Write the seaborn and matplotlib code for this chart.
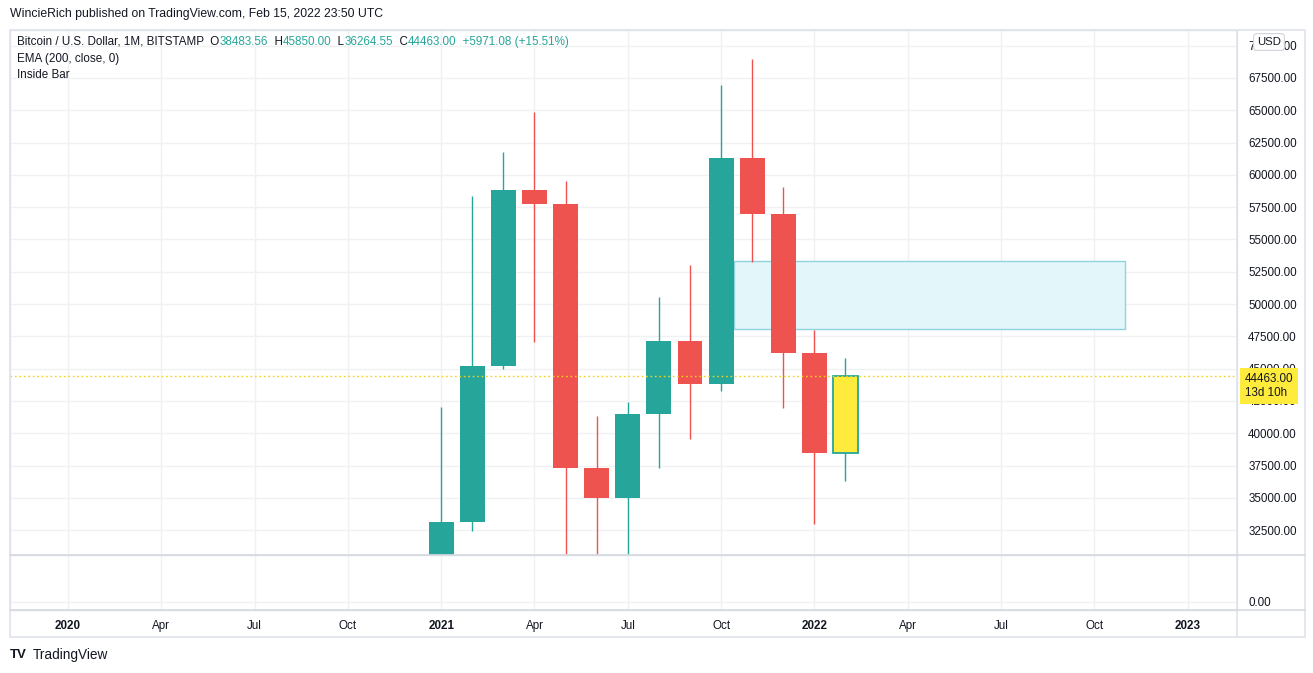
import matplotlib
matplotlib.use("Agg")
import matplotlib.pyplot as plt
import matplotlib.transforms as mtransforms
from matplotlib.lines import Line2D
from matplotlib.patches import Rectangle
import pandas as pd
import seaborn as sns

# ------------------- data (BTC/USD monthly)

months = ["2021-01", "2021-02", "2021-03", "2021-04", "2021-05", "2021-06", "2021-07",
          "2021-08", "2021-09", "2021-10", "2021-11", "2021-12", "2022-01", "2022-02"]
opens = [28990, 33120, 45180, 58820, 57740, 37300, 34990, 41480, 47140, 43810,
         61300, 56950, 46200, 38483.56]
highs = [42030, 58350, 61800, 64870, 59520, 41330, 42420, 50540, 53020, 66960,
         68980, 59060, 47990, 45850.00]
lows = [28130, 32400, 44950, 47060, 30000, 28800, 29300, 37310, 39550, 43300,
        53250, 41950, 32970, 36264.55]
closes = [33120, 45180, 58820, 57740, 37300, 34990, 41480, 47140, 43810, 61300,
          56950, 46200, 38491.92, 44463.00]

zone_start = "2021-10"
zone_end = "2022-11"
zone_low = 48070
zone_high = 53330

price_ticks = list(range(32500, 70001, 2500))
date_ticks = ["2020-01", "2020-04", "2020-07", "2020-10", "2021-01", "2021-04", "2021-07",
              "2021-10", "2022-01", "2022-04", "2022-07", "2022-10", "2023-01"]

title = "WincieRich published on TradingView.com, Feb 15, 2022 23:50 UTC"
symbol = "Bitcoin / U.S. Dollar, 1M, BITSTAMP"
countdown = "13d 10h"

UP, DOWN, LAST = "#26a69a", "#ef5350", "#ffeb3b"
INK, GRID, FRAME = "#131722", "#f0f1f3", "#e0e3eb"
FS = 8.4

# ------------------- helpers


def month_index(labels):
    per = pd.PeriodIndex(labels, freq="M")
    return (per.year - 2020) * 12 + per.month - 1


sns.set_theme(style="white")
plt.rcParams["font.family"] = ["Liberation Sans", "DejaVu Sans"]

W, H = 1313, 673


def fig_rect(l, t, r, b):
    return [l / W, 1 - b / H, (r - l) / W, (b - t) / H]


df = pd.DataFrame({"month": months, "open": opens, "high": highs, "low": lows, "close": closes})
df["x"] = month_index(df["month"])
df["up"] = df["close"] >= df["open"]
df["bottom"] = df[["open", "close"]].min(axis=1)
df["height"] = (df["close"] - df["open"]).abs()
df["color"] = df["up"].map({True: UP, False: DOWN})
df["face"] = df["color"]
df.loc[df.index[-1], "face"] = LAST

fig = plt.figure(figsize=(W / 100, H / 100), dpi=100)
fig.patch.set_facecolor("white")
ax = fig.add_axes(fig_rect(10, 30, 1237, 555))
ax_low = fig.add_axes(fig_rect(10, 555, 1237, 610), sharex=ax)

# candles
ax.vlines(df["x"], df["low"], df["high"], colors=df["color"], linewidth=1.0, zorder=2)
lw = [0] * (len(df) - 1) + [1.3]
ax.bar(df["x"], df["height"], bottom=df["bottom"], width=0.8, color=df["face"],
       edgecolor=df["color"], linewidth=lw, zorder=3)

# inside-bar zone
zx0 = month_index([zone_start])[0] + 0.4
zx1 = month_index([zone_end])[0]
ax.add_patch(Rectangle((zx0, zone_low), zx1 - zx0, zone_high - zone_low,
                       facecolor="#e3f6fa", edgecolor="#8fd3e0", linewidth=1.0, zorder=1))

# last price line
last = df["close"].iloc[-1]
ax.axhline(last, color="#f2d21b", linestyle=(0, (1.2, 2)), linewidth=1.0, zorder=4)

# axes / grid
xt = month_index(date_ticks)
for a in (ax, ax_low):
    a.set_xlim(-1.865, 37.59)
    a.set_xticks(xt)
    a.grid(True, color=GRID, linewidth=1.0)
    a.set_axisbelow(True)
    a.yaxis.tick_right()
    a.tick_params(axis="both", length=0, labelsize=FS, colors=INK)
    for s in a.spines.values():
        s.set_color(FRAME)
        s.set_linewidth(1.0)

ax.set_ylim(30571, 71216)
ax.set_yticks(price_ticks)
ax.set_yticklabels([f"{v:.2f}" for v in price_ticks])
ax.tick_params(axis="y", pad=8)
ax.tick_params(axis="x", labelbottom=False)

ax_low.set_ylim(-8, 47)
ax_low.set_yticks([0])
ax_low.set_yticklabels(["0.00"])
ax_low.tick_params(axis="y", pad=8)
ax_low.tick_params(axis="x", pad=7)
lbls = [d[:4] if d.endswith("-01") else pd.Period(d, "M").strftime("%b") for d in date_ticks]
ax_low.set_xticklabels(lbls)
for t, d in zip(ax_low.get_xticklabels(), date_ticks):
    if d.endswith("-01"):
        t.set_fontweight("bold")

# legend lines
chg = df["close"].iloc[-1] - df["close"].iloc[-2]
pct = chg / df["close"].iloc[-2] * 100
o, h, l, c = df[["open", "high", "low", "close"]].iloc[-1]
pieces = [(symbol + "  O", INK), (f"{o:.2f}", UP), ("  H", INK), (f"{h:.2f}", UP),
          ("  L", INK), (f"{l:.2f}", UP), ("  C", INK), (f"{c:.2f}", UP),
          (f"  {chg:+.2f} ({pct:+.2f}%)", UP)]
prev = ax.annotate(pieces[0][0], xy=(0, 1), xycoords="axes fraction", xytext=(7, -12),
                   textcoords="offset pixels", va="center", ha="left",
                   fontsize=FS, color=pieces[0][1], zorder=6)
for txt, col in pieces[1:]:
    prev = ax.annotate(txt, xy=(1, 0.5), xycoords=prev, va="center", ha="left",
                       fontsize=FS, color=col, zorder=6)
ax.annotate("EMA (200, close, 0)", xy=(0, 1), xycoords="axes fraction", xytext=(7, -29),
            textcoords="offset pixels", va="center", fontsize=FS, color=INK)
ax.annotate("Inside Bar", xy=(0, 1), xycoords="axes fraction", xytext=(7, -45),
            textcoords="offset pixels", va="center", fontsize=FS, color=INK)

# price label on the axis
tr = mtransforms.blended_transform_factory(ax.transAxes, ax.transData)
ax.annotate(f"{last:.2f}\n{countdown}", xy=(1, last), xycoords=tr, xytext=(8, 3),
            textcoords="offset pixels", va="top", ha="left", fontsize=FS, color=INK,
            linespacing=1.3, annotation_clip=False, zorder=10,
            bbox=dict(boxstyle="square,pad=0.4", fc=LAST, ec="none"))

# frame and separators
fig.add_artist(Rectangle((10 / W, 1 - 637 / H), 1295 / W, 607 / H, transform=fig.transFigure,
                         fill=False, edgecolor=FRAME, linewidth=1.2))
fig.add_artist(Line2D([1237 / W, 1237 / W], [1 - 30 / H, 1 - 637 / H], color=FRAME, lw=1.2))
for yy in (555, 610):
    fig.add_artist(Line2D([10 / W, 1305 / W], [1 - yy / H, 1 - yy / H], color="#d6d9e0", lw=1.2))

fig.text(1269 / W, 1 - 42 / H, "USD", ha="center", va="center", fontsize=8.2, color=INK,
         bbox=dict(boxstyle="round,pad=0.3,rounding_size=0.3", fc="white", ec="#d1d4dc", lw=0.8))

fig.text(10 / W, 1 - 14 / H, title, ha="left", va="center", fontsize=8.8, color=INK)
fig.text(10 / W, 1 - 655 / H, "TV", ha="left", va="center", fontsize=9.5, fontweight="heavy",
         color=INK)
fig.text(33 / W, 1 - 655 / H, "TradingView", ha="left", va="center", fontsize=9.8, color=INK)

fig.savefig("out.png", dpi=100, facecolor="white")
